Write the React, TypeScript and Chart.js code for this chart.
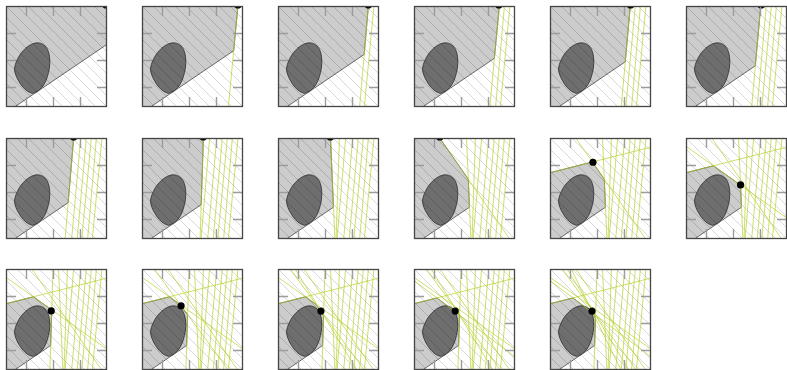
import React, { useEffect, useRef } from "react";
import { Chart, registerables } from "chart.js";

Chart.register(...registerables);

// ---------- data ----------
const PANEL_COUNT = 17;
const AXIS_MIN = 0;
const AXIS_MAX = 100;
const TICK_VALUES = [20, 46.67, 73.33];

// boundary of the starting region: [x1, y1, x2, y2]
const START_CUT = [8.4, 0, 100, 62];

// cutting lines in the order they are added: [x1, y1, x2, y2]
const CUTS = [
  [95, 100, 85.5, 0],
  [89.5, 100, 80.8, 0],
  [84.5, 100, 75, 0],
  [79.5, 100, 70.5, 0],
  [74, 100, 65, 0],
  [67, 100, 58.5, 0],
  [60.8, 100, 57.5, 0],
  [52, 100, 56.3, 0],
  [25.5, 100, 94.8, 0],
  [0, 65.6, 100, 91],
  [0, 91.8, 100, 20.6],
  [46.5, 100, 43.5, 0],
  [12, 100, 85.4, 0],
  [17, 100, 78.2, 0],
  [0, 88.5, 100, 13],
  [21, 100, 70.4, 0],
];

// query point of each panel
const QUERY_X = [99, 95, 89.5, 84, 79.8, 74.5, 67, 60.6, 51.8, 25.5, 42.5, 54, 44.8, 38.7, 42.5, 40.8, 41.6];
const QUERY_Y = [101, 101, 101, 101, 101, 101, 101, 101, 101, 101, 76, 53.5, 58.5, 63.6, 58.3, 58.3, 58.3];

// the convex set (dark blob)
const BLOB_X = [26, 31, 35.5, 39, 41.5, 43, 43.3, 42.3, 40.2, 36.5, 31.5, 26.5, 21, 16, 12, 9.3, 8.5, 10, 13, 17, 21.5, 26];
const BLOB_Y = [13.5, 15.5, 19.5, 25, 32, 39.5, 47, 53.5, 58.5, 62, 63.5, 62.5, 59.5, 54.5, 48.5, 42, 37, 31, 25, 19.5, 15.5, 13.5];

// a point known to lie inside the localization region
const INSIDE_POINT = [27, 40];

// ---------- helpers ----------
type Pt = [number, number];

function side(l: number[], x: number, y: number) {
  return (l[2] - l[0]) * (y - l[1]) - (l[3] - l[1]) * (x - l[0]);
}

function clipHalfPlane(poly: Pt[], l: number[]): Pt[] {
  const s0 = Math.sign(side(l, INSIDE_POINT[0], INSIDE_POINT[1])) || 1;
  const out: Pt[] = [];
  for (let i = 0; i < poly.length; i++) {
    const a = poly[i];
    const b = poly[(i + 1) % poly.length];
    const sa = side(l, a[0], a[1]) * s0;
    const sb = side(l, b[0], b[1]) * s0;
    if (sa >= 0) out.push(a);
    if (sa >= 0 !== sb >= 0) {
      const t = sa / (sa - sb);
      out.push([a[0] + t * (b[0] - a[0]), a[1] + t * (b[1] - a[1])]);
    }
  }
  return out;
}

function regionFor(index: number) {
  let poly: Pt[] = [
    [AXIS_MIN - 5, AXIS_MIN - 5],
    [AXIS_MAX + 5, AXIS_MIN - 5],
    [AXIS_MAX + 5, AXIS_MAX + 5],
    [AXIS_MIN - 5, AXIS_MAX + 5],
  ];
  poly = clipHalfPlane(poly, START_CUT);
  for (let j = 0; j < index; j++) poly = clipHalfPlane(poly, CUTS[j]);
  const pts = poly.map((p) => ({ x: p[0], y: p[1] }));
  if (pts.length) pts.push({ ...pts[0] });
  return pts;
}

function makeHatch() {
  const s = 11;
  const c = document.createElement("canvas");
  c.width = s;
  c.height = s;
  const g = c.getContext("2d")!;
  g.strokeStyle = "rgba(0,0,0,0.17)";
  g.lineWidth = 0.9;
  g.beginPath();
  for (let k = -1; k <= 1; k++) {
    g.moveTo(k * s, 0);
    g.lineTo(k * s + s, s);
  }
  g.stroke();
  return g.createPattern(c, "repeat");
}

const frameAndTicks = {
  id: "frameAndTicks",
  afterDatasetsDraw(chart: any) {
    const { ctx, chartArea, scales } = chart;
    const { left, top, right, bottom } = chartArea;
    const TL = 10;
    ctx.save();
    ctx.strokeStyle = "#9c9c9c";
    ctx.lineWidth = 1.4;
    ctx.beginPath();
    TICK_VALUES.forEach((v) => {
      const px = Math.round(scales.x.getPixelForValue(v)) + 0.5;
      ctx.moveTo(px, top);
      ctx.lineTo(px, top + TL);
      ctx.moveTo(px, bottom);
      ctx.lineTo(px, bottom - TL);
      const py = Math.round(scales.y.getPixelForValue(v)) + 0.5;
      ctx.moveTo(left, py);
      ctx.lineTo(left + TL, py);
      ctx.moveTo(right, py);
      ctx.lineTo(right - TL, py);
    });
    ctx.stroke();
    ctx.strokeStyle = "#454545";
    ctx.lineWidth = 1.3;
    ctx.strokeRect(left + 0.5, top + 0.5, right - left - 1, bottom - top - 1);
    ctx.restore();
  },
};

const CUT_COLOR = "rgba(178, 210, 35, 0.68)";

function Panel({ index }: { index: number }) {
  const ref = useRef<HTMLCanvasElement | null>(null);
  useEffect(() => {
    if (!ref.current) return;
    const hatch = makeHatch();
    const box = [
      { x: AXIS_MIN - 2, y: AXIS_MIN - 2 },
      { x: AXIS_MAX + 2, y: AXIS_MIN - 2 },
      { x: AXIS_MAX + 2, y: AXIS_MAX + 2 },
      { x: AXIS_MIN - 2, y: AXIS_MAX + 2 },
      { x: AXIS_MIN - 2, y: AXIS_MIN - 2 },
    ];
    const datasets: any[] = [
      {
        data: regionFor(index),
        fill: "shape",
        backgroundColor: "#cccccc",
        borderColor: "#4a4a4a",
        borderWidth: 0.8,
        pointRadius: 0,
        tension: 0,
        clip: 0,
        order: 10,
      },
      {
        data: BLOB_X.map((x, i) => ({ x, y: BLOB_Y[i] })),
        fill: "shape",
        backgroundColor: "#6e6e6e",
        borderColor: "#353535",
        borderWidth: 0.9,
        pointRadius: 0,
        tension: 0.4,
        clip: 0,
        order: 9,
      },
      {
        data: box,
        fill: "shape",
        backgroundColor: hatch,
        borderWidth: 0,
        pointRadius: 0,
        clip: 0,
        order: 8,
      },
    ];
    CUTS.slice(0, index).forEach((l) => {
      datasets.push({
        data: [
          { x: l[0], y: l[1] },
          { x: l[2], y: l[3] },
        ],
        fill: false,
        borderColor: CUT_COLOR,
        borderWidth: 1,
        pointRadius: 0,
        clip: 0,
        order: 5,
      });
    });
    datasets.push({
      data: [{ x: QUERY_X[index], y: QUERY_Y[index] }],
      showLine: false,
      pointRadius: 3.6,
      pointBackgroundColor: "#000",
      pointBorderColor: "#000",
      pointBorderWidth: 0,
      clip: 0,
      order: 1,
    });
    const chart = new Chart(ref.current, {
      type: "line",
      data: { datasets },
      options: {
        animation: false,
        responsive: false,
        events: [],
        layout: { padding: 2, autoPadding: false } as any,
        plugins: { legend: { display: false }, tooltip: { enabled: false } },
        scales: {
          x: { type: "linear", min: AXIS_MIN, max: AXIS_MAX, display: false },
          y: { type: "linear", min: AXIS_MIN, max: AXIS_MAX, display: false },
        },
      },
      plugins: [frameAndTicks],
    } as any);
    return () => chart.destroy();
  }, [index]);

  const c = index % 6;
  const r = Math.floor(index / 6);
  const tops = [4, 136, 267];
  return (
    <canvas
      ref={ref}
      width={105}
      height={105}
      style={{ position: "absolute", left: 4 + 136 * c, top: tops[r], width: 105, height: 105 }}
    />
  );
}

export default function App() {
  return (
    <div style={{ position: "fixed", left: 0, top: 0, width: 787, height: 370, overflow: "hidden", background: "#fff" }}>
      {Array.from({ length: PANEL_COUNT }, (_, i) => (
        <Panel key={i} index={i} />
      ))}
    </div>
  );
}
